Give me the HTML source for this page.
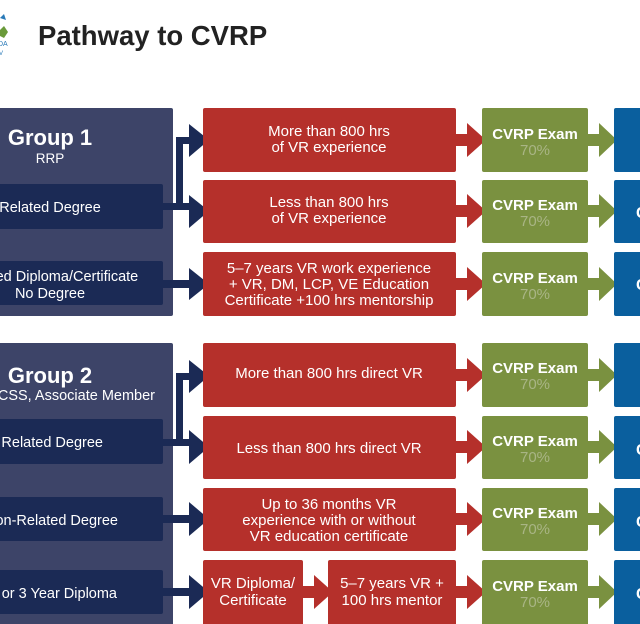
<!DOCTYPE html>
<html><head><style>
body{margin:0;background:#fff;width:640px;height:624px;overflow:hidden}
svg{display:block;font-family:"Liberation Sans",Arial,sans-serif}
</style></head><body>
<svg width="640" height="624" viewBox="0 0 640 624" xmlns="http://www.w3.org/2000/svg">
<!-- logo -->
<path d="M0 18 L4 14 L6 20 Z" fill="#2a7ab8"/>
<path d="M0 30 L4 26 L8 32 L4 38 L0 36 Z" fill="#6a9a3a"/>
<text x="-2" y="46" font-size="7" fill="#2a7ab8">DA</text>
<text x="-1" y="55" font-size="6" fill="#2a7ab8">V</text>
<text x="38" y="45" font-size="27.5" font-weight="bold" fill="#222">Pathway to CVRP</text>

<g fill="#3d4468"><rect x="-5" y="108" width="178" height="208" rx="2"/><rect x="-5" y="343" width="178" height="290" rx="2"/></g>
<g fill="#1b2a55">
<rect x="-5" y="184" width="168" height="45" rx="2"/><rect x="-5" y="261" width="168" height="44" rx="2"/>
<rect x="-5" y="419" width="168" height="45" rx="2"/><rect x="-5" y="497" width="168" height="44" rx="2"/><rect x="-5" y="570" width="168" height="44" rx="2"/>
</g>
<g fill="#fff" text-anchor="middle">
<text x="50" y="145" font-size="22" font-weight="bold">Group 1</text>
<text x="50" y="163" font-size="13.5">RRP</text>
<text x="50" y="212" font-size="14.5">Related Degree</text>
<text x="50" y="281" font-size="14.5">Related Diploma/Certificate</text>
<text x="50" y="298" font-size="14.5">No Degree</text>
<text x="50" y="383" font-size="22" font-weight="bold">Group 2</text>
</g>
<g fill="#fff" text-anchor="end" font-size="14.5">
<text x="155" y="400">CRC, CCSS, Associate Member</text>
<text x="103" y="447">Related Degree</text>
<text x="118" y="525">Non-Related Degree</text>
<text x="117" y="598">2 or 3 Year Diploma</text>
</g>

<!-- navy arrows -->
<g fill="#1b2a55">
<rect x="163" y="203" width="27" height="7"/>
<rect x="176" y="137" width="7" height="71"/>
<rect x="176" y="137" width="14" height="7"/>
<path d="M189 124 L209 140 L189 157 Z"/><path d="M189 195 L209 211 L189 228 Z"/>
<rect x="163" y="280" width="27" height="8"/><path d="M189 268 L209 284 L189 300 Z"/>
<rect x="163" y="439" width="27" height="7"/>
<rect x="176" y="373" width="7" height="71"/>
<rect x="176" y="373" width="14" height="7"/>
<path d="M189 360 L209 376 L189 393 Z"/><path d="M189 430 L209 447 L189 464 Z"/>
<rect x="163" y="515" width="27" height="8"/><path d="M189 502 L209 519 L189 536 Z"/>
<rect x="163" y="588" width="27" height="8"/><path d="M189 575 L209 592 L189 609 Z"/>
</g>

<!-- red boxes -->
<g fill="#b5302b">
<rect x="203" y="108" width="253" height="64" rx="2"/><rect x="203" y="180" width="253" height="63" rx="2"/><rect x="203" y="252" width="253" height="64" rx="2"/>
<rect x="203" y="343" width="253" height="64" rx="2"/><rect x="203" y="416" width="253" height="63" rx="2"/><rect x="203" y="488" width="253" height="63" rx="2"/>
<rect x="203" y="560" width="100" height="70" rx="2"/><rect x="328" y="560" width="128" height="70" rx="2"/>
</g>
<g fill="#b5302b">
<g id="ra"><rect x="455" y="134" width="14" height="12"/><path d="M467 123 L486 140 L467 157 Z"/></g>
<use href="#ra" y="71"/><use href="#ra" y="144"/><use href="#ra" y="235"/><use href="#ra" y="307"/><use href="#ra" y="379"/><use href="#ra" y="452"/>
<rect x="302" y="586" width="14" height="12"/><path d="M314 575 L333 592 L314 609 Z"/>
</g>
<g fill="#fff" text-anchor="middle" font-size="15">
<text x="329" y="136">More than 800 hrs</text><text x="329" y="152">of VR experience</text>
<text x="329" y="207">Less than 800 hrs</text><text x="329" y="223">of VR experience</text>
<text x="329" y="273">5–7 years VR work experience</text><text x="329" y="289">+ VR, DM, LCP, VE Education</text><text x="329" y="305">Certificate +100 hrs mentorship</text>
<text x="329" y="378">More than 800 hrs direct VR</text>
<text x="329" y="453">Less than 800 hrs direct VR</text>
<text x="329" y="509">Up to 36 months VR</text><text x="329" y="525">experience with or without</text><text x="329" y="541">VR education certificate</text>
<text x="253" y="588">VR Diploma/</text><text x="253" y="605">Certificate</text>
<text x="392" y="588">5–7 years VR +</text><text x="392" y="605">100 hrs mentor</text>
</g>

<!-- green -->
<g fill="#7a9140">
<rect x="482" y="108" width="106" height="64" rx="2"/><rect x="482" y="180" width="106" height="63" rx="2"/><rect x="482" y="252" width="106" height="64" rx="2"/>
<rect x="482" y="343" width="106" height="64" rx="2"/><rect x="482" y="416" width="106" height="63" rx="2"/><rect x="482" y="488" width="106" height="63" rx="2"/><rect x="482" y="560" width="106" height="70" rx="2"/>
<g id="ga"><rect x="587" y="134" width="14" height="12"/><path d="M599 123 L617 140 L599 157 Z"/></g>
<use href="#ga" y="71"/><use href="#ga" y="144"/><use href="#ga" y="235"/><use href="#ga" y="307"/><use href="#ga" y="379"/><use href="#ga" y="452"/>
</g>
<g text-anchor="middle">
<g id="ex"><text x="535" y="139" font-size="15" font-weight="bold" fill="#fff">CVRP Exam</text><text x="535" y="155" font-size="15" fill="#a9b585">70%</text></g>
<use href="#ex" y="71"/><use href="#ex" y="144"/><use href="#ex" y="234"/><use href="#ex" y="307"/><use href="#ex" y="379"/><use href="#ex" y="452"/>
</g>

<!-- blue -->
<g fill="#0a5f9e">
<rect x="614" y="108" width="40" height="64" rx="2"/><rect x="614" y="180" width="40" height="63" rx="2"/><rect x="614" y="252" width="40" height="64" rx="2"/>
<rect x="614" y="343" width="40" height="64" rx="2"/><rect x="614" y="416" width="40" height="63" rx="2"/><rect x="614" y="488" width="40" height="63" rx="2"/><rect x="614" y="560" width="40" height="70" rx="2"/>
</g>
<g fill="#fff" font-size="16" font-weight="bold">
<text x="636" y="218">C</text><text x="636" y="290">C</text><text x="636" y="455">C</text><text x="636" y="527">C</text><text x="636" y="599">C</text>
</g>
</svg>
</body></html>
